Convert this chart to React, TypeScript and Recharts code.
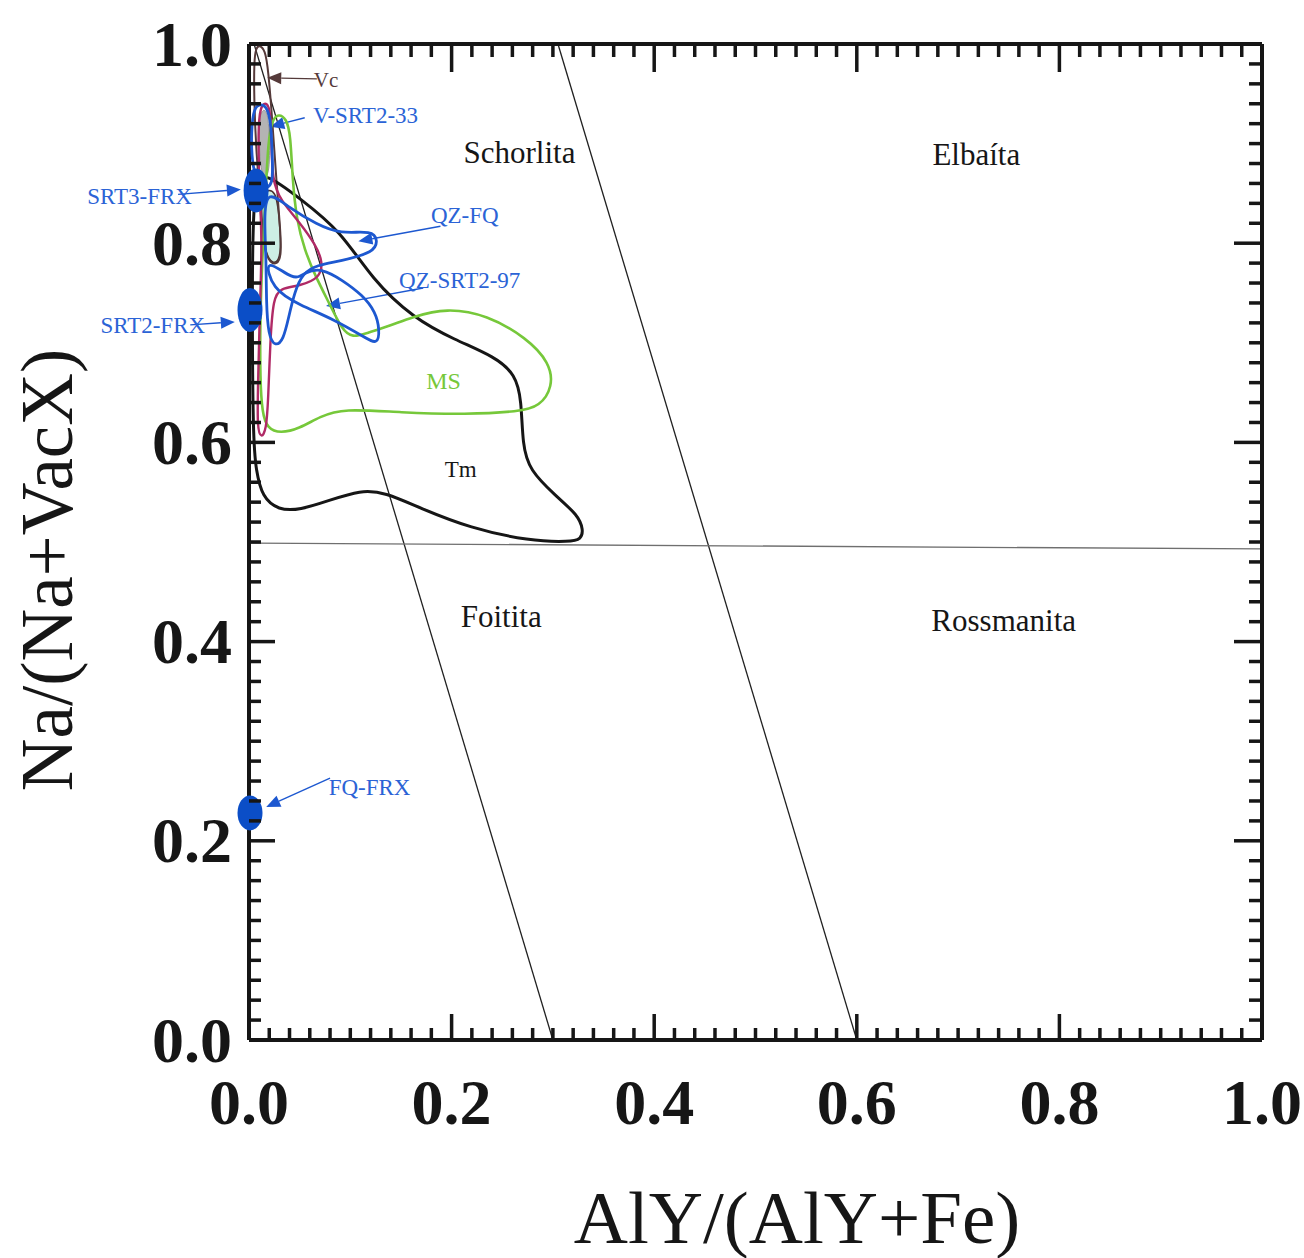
import React from 'react'
import { ScatterChart, Scatter, XAxis, YAxis, ReferenceLine, ReferenceDot } from 'recharts'

type Pt = { x: number; y: number }

// x = AlY/(AlY+Fe), y = Na/(Na+VacX), outlines
const tmField: Pt[] = [
  { x: 0.004, y: 0.863 }, { x: 0.016, y: 0.871 }, { x: 0.05, y: 0.845 }, { x: 0.09, y: 0.813 },
  { x: 0.122, y: 0.763 }, { x: 0.162, y: 0.725 }, { x: 0.203, y: 0.703 }, { x: 0.243, y: 0.686 },
  { x: 0.263, y: 0.668 }, { x: 0.269, y: 0.643 }, { x: 0.27, y: 0.597 }, { x: 0.277, y: 0.572 },
  { x: 0.302, y: 0.547 }, { x: 0.325, y: 0.527 }, { x: 0.33, y: 0.512 }, { x: 0.328, y: 0.503 },
  { x: 0.317, y: 0.5 }, { x: 0.277, y: 0.501 }, { x: 0.218, y: 0.514 }, { x: 0.169, y: 0.534 },
  { x: 0.134, y: 0.55 }, { x: 0.11, y: 0.552 }, { x: 0.08, y: 0.542 }, { x: 0.05, y: 0.532 },
  { x: 0.029, y: 0.532 }, { x: 0.013, y: 0.545 }, { x: 0.007, y: 0.572 }, { x: 0.004, y: 0.602 },
  { x: 0.003, y: 0.743 },
]

const msField: Pt[] = [
  { x: 0.023, y: 0.924 }, { x: 0.029, y: 0.93 }, { x: 0.037, y: 0.925 }, { x: 0.041, y: 0.909 },
  { x: 0.043, y: 0.863 }, { x: 0.047, y: 0.823 }, { x: 0.055, y: 0.793 }, { x: 0.065, y: 0.768 },
  { x: 0.08, y: 0.738 }, { x: 0.092, y: 0.713 }, { x: 0.102, y: 0.705 }, { x: 0.117, y: 0.71 },
  { x: 0.139, y: 0.717 }, { x: 0.161, y: 0.726 }, { x: 0.195, y: 0.735 }, { x: 0.235, y: 0.728 },
  { x: 0.274, y: 0.705 }, { x: 0.297, y: 0.68 }, { x: 0.3, y: 0.656 }, { x: 0.287, y: 0.636 },
  { x: 0.267, y: 0.631 }, { x: 0.215, y: 0.628 }, { x: 0.149, y: 0.63 }, { x: 0.093, y: 0.634 },
  { x: 0.07, y: 0.626 }, { x: 0.05, y: 0.614 }, { x: 0.031, y: 0.609 }, { x: 0.018, y: 0.614 },
  { x: 0.013, y: 0.63 }, { x: 0.011, y: 0.663 }, { x: 0.011, y: 0.723 }, { x: 0.013, y: 0.783 },
  { x: 0.016, y: 0.843 }, { x: 0.019, y: 0.904 },
]

const vcField: Pt[] = [
  { x: 0.01, y: 0.999 }, { x: 0.016, y: 0.994 }, { x: 0.019, y: 0.974 }, { x: 0.023, y: 0.924 },
  { x: 0.027, y: 0.863 }, { x: 0.031, y: 0.813 }, { x: 0.032, y: 0.788 }, { x: 0.028, y: 0.778 },
  { x: 0.019, y: 0.781 }, { x: 0.013, y: 0.803 }, { x: 0.011, y: 0.843 }, { x: 0.007, y: 0.894 },
  { x: 0.005, y: 0.944 }, { x: 0.005, y: 0.984 }, { x: 0.007, y: 0.996 },
]

const vcCore: Pt[] = [
  { x: 0.013, y: 0.853 }, { x: 0.027, y: 0.855 }, { x: 0.03, y: 0.823 }, { x: 0.032, y: 0.793 },
  { x: 0.028, y: 0.779 }, { x: 0.019, y: 0.782 }, { x: 0.014, y: 0.803 }, { x: 0.012, y: 0.833 },
]

const grayCore: Pt[] = [
  { x: 0.01, y: 0.932 }, { x: 0.017, y: 0.936 }, { x: 0.02, y: 0.918 }, { x: 0.021, y: 0.868 },
  { x: 0.013, y: 0.863 }, { x: 0.01, y: 0.894 },
]

const magentaField: Pt[] = [
  { x: 0.016, y: 0.942 }, { x: 0.021, y: 0.936 }, { x: 0.022, y: 0.904 }, { x: 0.023, y: 0.863 },
  { x: 0.031, y: 0.843 }, { x: 0.05, y: 0.821 }, { x: 0.066, y: 0.798 }, { x: 0.073, y: 0.781 },
  { x: 0.07, y: 0.765 }, { x: 0.05, y: 0.757 }, { x: 0.031, y: 0.755 }, { x: 0.024, y: 0.745 },
  { x: 0.021, y: 0.703 }, { x: 0.019, y: 0.643 }, { x: 0.017, y: 0.612 }, { x: 0.012, y: 0.604 },
  { x: 0.008, y: 0.614 }, { x: 0.009, y: 0.663 }, { x: 0.011, y: 0.743 }, { x: 0.013, y: 0.803 },
  { x: 0.01, y: 0.863 }, { x: 0.009, y: 0.914 }, { x: 0.011, y: 0.936 },
]

const vSrt233: Pt[] = [
  { x: 0.011, y: 0.94 }, { x: 0.018, y: 0.937 }, { x: 0.022, y: 0.919 }, { x: 0.023, y: 0.884 },
  { x: 0.024, y: 0.858 }, { x: 0.013, y: 0.853 }, { x: 0.003, y: 0.873 }, { x: 0.002, y: 0.914 },
  { x: 0.005, y: 0.936 },
]

const qzFq: Pt[] = [
  { x: 0.017, y: 0.855 }, { x: 0.04, y: 0.835 }, { x: 0.067, y: 0.819 }, { x: 0.09, y: 0.809 },
  { x: 0.122, y: 0.813 }, { x: 0.127, y: 0.803 }, { x: 0.124, y: 0.791 }, { x: 0.09, y: 0.782 },
  { x: 0.067, y: 0.778 }, { x: 0.053, y: 0.77 }, { x: 0.045, y: 0.751 }, { x: 0.039, y: 0.725 },
  { x: 0.034, y: 0.703 }, { x: 0.026, y: 0.696 }, { x: 0.019, y: 0.707 }, { x: 0.017, y: 0.743 },
  { x: 0.017, y: 0.783 }, { x: 0.015, y: 0.823 },
]

const qzSrt297: Pt[] = [
  { x: 0.014, y: 0.788 }, { x: 0.023, y: 0.753 }, { x: 0.05, y: 0.738 }, { x: 0.085, y: 0.723 },
  { x: 0.115, y: 0.705 }, { x: 0.127, y: 0.698 }, { x: 0.129, y: 0.713 }, { x: 0.125, y: 0.731 },
  { x: 0.112, y: 0.748 }, { x: 0.092, y: 0.763 }, { x: 0.072, y: 0.775 }, { x: 0.055, y: 0.771 },
  { x: 0.045, y: 0.761 },
]

// whole-rock analyses (blue ovals)
const srtFrx = [
  { name: 'SRT3-FRX', x: 0.007, y: 0.853 },
  { name: 'SRT2-FRX', x: 0.001, y: 0.733 },
]
const fqFrx = [{ name: 'FQ-FRX', x: 0.001, y: 0.228 }]

// field boundaries
const boundaries: Pt[][] = [
  [{ x: 0.005, y: 1 }, { x: 0.3, y: 0 }],
  [{ x: 0.305, y: 1 }, { x: 0.6, y: 0 }],
  [{ x: 0, y: 0.499 }, { x: 1, y: 0.493 }],
]

const fieldNames = [
  { text: 'Schorlita', x: 0.267, y: 0.891 },
  { text: 'Elbaíta', x: 0.718, y: 0.889 },
  { text: 'Foitita', x: 0.249, y: 0.425 },
  { text: 'Rossmanita', x: 0.745, y: 0.421 },
]

const sampleLabels = [
  { text: 'V-SRT2-33', x: 0.115, y: 0.928 },
  { text: 'QZ-FQ', x: 0.213, y: 0.828 },
  { text: 'QZ-SRT2-97', x: 0.208, y: 0.763 },
  { text: 'SRT3-FRX', x: -0.108, y: 0.847 },
  { text: 'SRT2-FRX', x: -0.095, y: 0.717 },
  { text: 'FQ-FRX', x: 0.119, y: 0.254 },
]

const sampleArrows: Pt[][] = [
  [{ x: 0.055, y: 0.926 }, { x: 0.021, y: 0.917 }],
  [{ x: 0.189, y: 0.817 }, { x: 0.108, y: 0.802 }],
  [{ x: 0.172, y: 0.755 }, { x: 0.076, y: 0.737 }],
  [{ x: -0.07, y: 0.849 }, { x: -0.008, y: 0.854 }],
  [{ x: -0.058, y: 0.718 }, { x: -0.014, y: 0.721 }],
  [{ x: 0.08, y: 0.263 }, { x: 0.017, y: 0.234 }],
]

const vcLabel = { text: 'Vc', x: 0.076, y: 0.964 }
const vcArrow: Pt[] = [{ x: 0.067, y: 0.965 }, { x: 0.018, y: 0.966 }]
const tmLabel = { text: 'Tm', x: 0.209, y: 0.573 }
const msLabel = { text: 'MS', x: 0.192, y: 0.662 }

const majorTickLabels = ['0.0', '0.2', '0.4', '0.6', '0.8', '1.0']
const axisTicks = Array.from({ length: 51 }, (_, i) => i / 50)

const SERIF = "'Liberation Serif', 'Times New Roman', serif"
const INK = '#161616'
const BLUE = '#1d58d0'
const BLUE_TEXT = '#2b63d6'
const VC = '#553a3a'

const majorIndex = (v: number) => {
  const k = Math.round(v * 5)
  return Math.abs(v * 5 - k) < 1e-6 ? k : -1
}

const tickText = { fontFamily: SERIF, fontWeight: 700, fontSize: 64, fill: INK }

const LeftTick = ({ x, y, payload }: any) => {
  const k = majorIndex(payload.value)
  return (
    <g>
      <line x1={x} x2={x + (k >= 0 ? 26 : 12)} y1={y} y2={y} stroke={INK} strokeWidth={3.5} />
      {k >= 0 && (
        <text x={x - 17} y={y} textAnchor='end' dominantBaseline='central' style={tickText}>
          {majorTickLabels[k]}
        </text>
      )}
    </g>
  )
}

const BottomTick = ({ x, y, payload }: any) => {
  const k = majorIndex(payload.value)
  return (
    <g>
      <line x1={x} x2={x} y1={y} y2={y - (k >= 0 ? 26 : 12)} stroke={INK} strokeWidth={3.5} />
      {k >= 0 && (
        <text x={x} y={y + 62} textAnchor='middle' dominantBaseline='central' style={tickText}>
          {majorTickLabels[k]}
        </text>
      )}
    </g>
  )
}

const TopTick = ({ x, y, payload }: any) => {
  const k = majorIndex(payload.value)
  return <line x1={x} x2={x} y1={y} y2={y + (k >= 0 ? 28 : 13)} stroke={INK} strokeWidth={3.5} />
}

const RightTick = ({ x, y, payload }: any) => {
  const k = majorIndex(payload.value)
  return <line x1={x} x2={x - (k >= 0 ? 28 : 13)} y1={y} y2={y} stroke={INK} strokeWidth={3.5} />
}

const NoDot = () => null

const arrowShape = (color: string) => (p: any) => {
  const { x1, y1, x2, y2 } = p
  const a = Math.atan2(y2 - y1, x2 - x1)
  const len = 14
  const half = 6
  const bx = x2 - len * Math.cos(a)
  const by = y2 - len * Math.sin(a)
  const pts = `${x2},${y2} ${bx + half * Math.sin(a)},${by - half * Math.cos(a)} ${bx - half * Math.sin(a)},${by + half * Math.cos(a)}`
  return (
    <g>
      <line x1={x1} y1={y1} x2={bx} y2={by} stroke={color} strokeWidth={1.4} />
      <polygon points={pts} fill={color} />
    </g>
  )
}

const textShape = (text: string, style: React.CSSProperties) => (p: any) => (
  <text x={p.cx} y={p.cy} textAnchor='middle' dominantBaseline='central' style={{ fontFamily: SERIF, ...style }}>
    {text}
  </text>
)

const field = (name: string, data: Pt[], stroke: string, strokeWidth: number, fill = 'none') => (
  <Scatter
    key={name}
    name={name}
    data={data}
    shape={NoDot}
    line={{ stroke, strokeWidth, fill, strokeLinejoin: 'round' }}
    lineType='joint'
    lineJointType='basisClosed'
    isAnimationActive={false}
    legendType='none'
  />
)

const ellipse = (ry: number) => (p: any) => <ellipse cx={p.cx} cy={p.cy} rx={12.5} ry={ry} fill='#0b4ec7' />

export default function App() {
  return (
    <div style={{ width: 1304, height: 1258 }}>
      <style>{'body{margin:0;overflow:hidden}'}</style>
      <ScatterChart width={1304} height={1258} margin={{ top: 43, right: 41, bottom: 118, left: 149 }}>
        <XAxis
          type='number'
          dataKey='x'
          domain={[0, 1]}
          ticks={axisTicks}
          interval={0}
          height={100}
          tickSize={0}
          tickMargin={0}
          tickLine={false}
          axisLine={{ stroke: INK, strokeWidth: 4 }}
          tick={<BottomTick />}
          label={{
            content: (p: any) => (
              <text
                x={p.viewBox.x + 548}
                y={p.viewBox.y + 203}
                textAnchor='middle'
                style={{ fontFamily: SERIF, fontSize: 75, fill: INK }}
              >
                AlY/(AlY+Fe)
              </text>
            ),
          }}
        />
        <XAxis
          xAxisId='top'
          orientation='top'
          type='number'
          dataKey='x'
          domain={[0, 1]}
          ticks={axisTicks}
          interval={0}
          height={1}
          tickSize={0}
          tickMargin={0}
          tickLine={false}
          axisLine={{ stroke: INK, strokeWidth: 4 }}
          tick={<TopTick />}
        />
        <YAxis
          type='number'
          dataKey='y'
          domain={[0, 1]}
          ticks={axisTicks}
          interval={0}
          width={100}
          tickSize={0}
          tickMargin={0}
          tickLine={false}
          axisLine={{ stroke: INK, strokeWidth: 4 }}
          tick={<LeftTick />}
          label={{
            content: (p: any) => (
              <text
                x={p.viewBox.x - 102}
                y={p.viewBox.y + 526}
                textAnchor='middle'
                dominantBaseline='central'
                transform={`rotate(-90 ${p.viewBox.x - 102} ${p.viewBox.y + 526})`}
                style={{ fontFamily: SERIF, fontSize: 73, fill: INK }}
              >
                Na/(Na+VacX)
              </text>
            ),
          }}
        />
        <YAxis
          yAxisId='right'
          orientation='right'
          type='number'
          dataKey='y'
          domain={[0, 1]}
          ticks={axisTicks}
          interval={0}
          width={1}
          tickSize={0}
          tickMargin={0}
          tickLine={false}
          axisLine={{ stroke: INK, strokeWidth: 4 }}
          tick={<RightTick />}
        />

        <Scatter
          xAxisId='top'
          yAxisId='right'
          data={[{ x: 0, y: 0 }, { x: 1, y: 1 }]}
          shape={NoDot}
          isAnimationActive={false}
          legendType='none'
        />

        {boundaries.map((seg, i) => (
          <ReferenceLine
            key={`b${i}`}
            segment={seg}
            stroke={i === 2 ? '#6f6f6f' : '#202020'}
            strokeWidth={1.3}
            ifOverflow='visible'
          />
        ))}

        {field('cyan', vcCore, '#4a3030', 1.6, '#cdeee4')}
        {field('gray', grayCore, '#9a9a9a', 1, '#b4b4b4')}
        {field('Vc', vcField, VC, 2)}
        {field('Tm', tmField, INK, 3)}
        {field('MS', msField, '#76c83a', 2.6)}
        {field('magenta', magentaField, '#b02a66', 2.4)}
        {field('V-SRT2-33', vSrt233, BLUE, 2.8)}
        {field('QZ-FQ', qzFq, BLUE, 2.8)}
        {field('QZ-SRT2-97', qzSrt297, BLUE, 2.8)}

        <Scatter data={srtFrx} shape={ellipse(22)} isAnimationActive={false} legendType='none' />
        <Scatter data={fqFrx} shape={ellipse(17.5)} isAnimationActive={false} legendType='none' />

        {sampleArrows.map((seg, i) => (
          <ReferenceLine key={`a${i}`} segment={seg} ifOverflow='visible' shape={arrowShape(BLUE)} />
        ))}
        <ReferenceLine segment={vcArrow} ifOverflow='visible' shape={arrowShape(VC)} />

        {fieldNames.map((l) => (
          <ReferenceDot key={l.text} x={l.x} y={l.y} ifOverflow='visible' shape={textShape(l.text, { fontSize: 31, fill: INK })} />
        ))}
        {sampleLabels.map((l) => (
          <ReferenceDot key={l.text} x={l.x} y={l.y} ifOverflow='visible' shape={textShape(l.text, { fontSize: 23, fill: BLUE_TEXT })} />
        ))}
        <ReferenceDot x={vcLabel.x} y={vcLabel.y} ifOverflow='visible' shape={textShape(vcLabel.text, { fontSize: 21, fill: VC })} />
        <ReferenceDot x={tmLabel.x} y={tmLabel.y} ifOverflow='visible' shape={textShape(tmLabel.text, { fontSize: 23, fill: INK })} />
        <ReferenceDot x={msLabel.x} y={msLabel.y} ifOverflow='visible' shape={textShape(msLabel.text, { fontSize: 24, fill: '#76c83a' })} />
      </ScatterChart>
    </div>
  )
}
